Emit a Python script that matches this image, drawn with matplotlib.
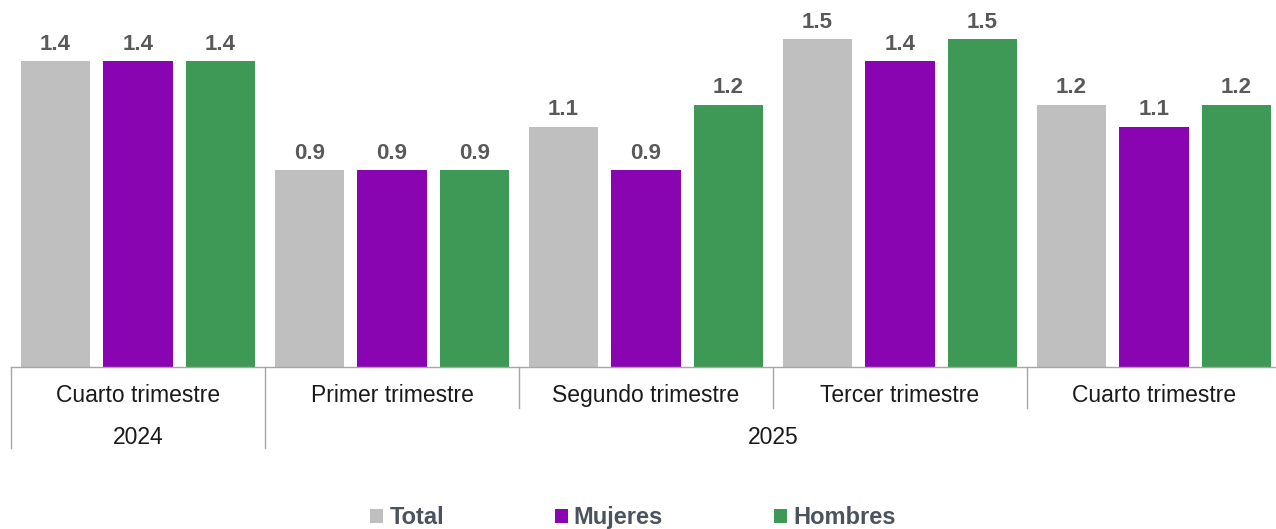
import matplotlib
matplotlib.use('Agg')
import matplotlib.pyplot as plt
import numpy as np

plt.rcParams['font.family'] = ['Liberation Sans', 'DejaVu Sans']

# datos
trimestres = ['Cuarto trimestre', 'Primer trimestre', 'Segundo trimestre',
              'Tercer trimestre', 'Cuarto trimestre']
anios = ['2024', '2025']
total = [1.4, 0.9, 1.1, 1.5, 1.2]
mujeres = [1.4, 0.9, 0.9, 1.4, 1.1]
hombres = [1.4, 0.9, 1.2, 1.5, 1.2]

series = [('Total', total, '#bfbfbf'),
          ('Mujeres', mujeres, '#8a05b2'),
          ('Hombres', hombres, '#3d9955')]

fig = plt.figure(figsize=(12.76, 5.29), dpi=100)
ax = fig.add_axes([11 / 1276, 162 / 529, 1270 / 1276, 367 / 529])

x = np.arange(len(trimestres))
ancho = 0.272
desp = 0.325

handles = []
for k, (nombre, vals, color) in enumerate(series):
    b = ax.bar(x + (k - 1) * desp, vals, ancho, color=color, label=nombre)
    handles.append(b)
    for xi, v in zip(x + (k - 1) * desp, vals):
        ax.annotate(f'{v:.1f}', (xi, v), xytext=(0, 4.5), textcoords='offset points',
                    ha='center', va='bottom', fontsize=16, fontweight='bold',
                    color='#595959')

ax.set_xlim(-0.5, 4.5)
ax.set_ylim(0, 1.679)
ax.set_yticks([])
ax.set_xticks([])
for s in ['top', 'right', 'left']:
    ax.spines[s].set_visible(False)
ax.spines['bottom'].set_color('#a6a6a6')
ax.spines['bottom'].set_linewidth(1)

trans = ax.get_xaxis_transform()
# etiquetas de trimestre
for xi, t in zip(x, trimestres):
    ax.text(xi, -0.077, t, transform=trans, ha='center', va='center',
            fontsize=16.5, color='#1a1a1a')
# etiquetas de año
ax.text(0, -0.193, anios[0], transform=trans, ha='center', va='center',
        fontsize=16.5, color='#1a1a1a')
ax.text(2.5, -0.193, anios[1], transform=trans, ha='center', va='center',
        fontsize=16.5, color='#1a1a1a')

# separadores
for xb in [-0.5, 0.5]:
    ax.plot([xb, xb], [0, -0.221], transform=trans, color='#a6a6a6', lw=1, clip_on=False)
for xb in [1.5, 2.5, 3.5]:
    ax.plot([xb, xb], [0, -0.112], transform=trans, color='#a6a6a6', lw=1, clip_on=False)

leg = fig.legend(handles=handles, loc='center', bbox_to_anchor=(0.496, 0.021),
                 ncol=3, frameon=False, handlelength=0.55, handleheight=0.55,
                 handletextpad=0.25, columnspacing=4.7,
                 prop={'size': 17, 'weight': 'bold'})
for t in leg.get_texts():
    t.set_color('#4a535e')

fig.savefig('out.png', dpi=100)
